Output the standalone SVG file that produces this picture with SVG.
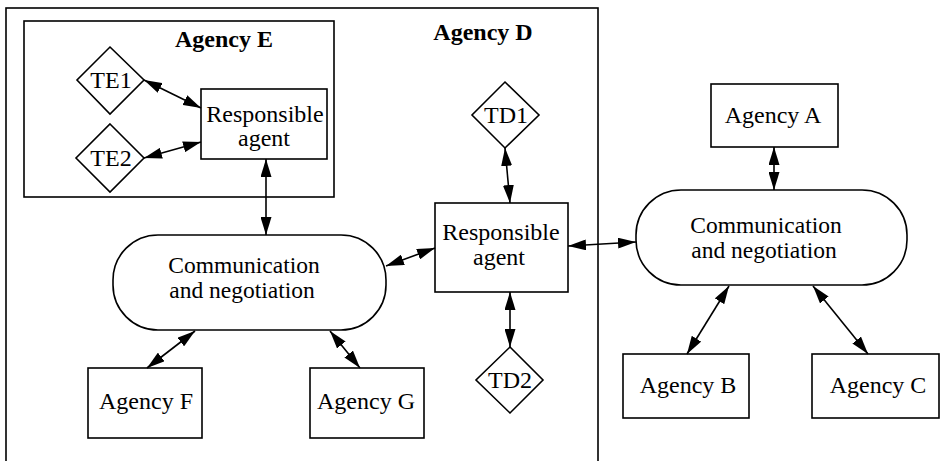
<svg xmlns="http://www.w3.org/2000/svg" width="942" height="461" viewBox="0 0 942 461">
<defs>
<marker id="ah" markerUnits="userSpaceOnUse" markerWidth="18" markerHeight="11" refX="18" refY="5.5" orient="auto-start-reverse" viewBox="0 0 18 11">
<path d="M0,0 L18,5.5 L0,11 z" fill="#000"/>
</marker>
</defs>
<style>
.box{fill:#fff;stroke:#000;stroke-width:1.6}
.frame{fill:none;stroke:#000;stroke-width:1.6}
text{font-family:"Liberation Serif","Times New Roman",serif;font-size:24px;fill:#000;text-anchor:middle}
.title{font-weight:bold;font-size:24px}
.cn{font-size:23.5px}
.conn line{stroke:#000;stroke-width:1.6;marker-start:url(#ah);marker-end:url(#ah)}
</style>
<rect width="942" height="461" fill="#fff"/>
<g id="agencyD">
<rect class="frame" x="6" y="8" width="592" height="470"/>
<text class="title" x="483" y="40">Agency D</text>
</g>
<g id="agencyE">
<rect class="frame" x="24" y="21" width="310" height="176"/>
<text class="title" x="224" y="47">Agency E</text>
</g>
<g id="TE1">
<polygon class="box" points="110,47 144,80 110,114 77,80"/>
<text x="111" y="88">TE1</text>
</g>
<g id="TE2">
<polygon class="box" points="110,124 144,158 110,192 76,158"/>
<text x="111" y="166">TE2</text>
</g>
<g id="respE">
<rect class="box" x="201" y="89" width="126" height="70"/>
<text x="265" y="122">Responsible</text>
<text x="264" y="146">agent</text>
</g>
<g id="commLeft">
<rect class="box" x="113" y="235" width="273" height="95" rx="45" ry="45"/>
<text class="cn" x="244" y="273">Communication</text>
<text class="cn" x="242" y="298">and negotiation</text>
</g>
<g id="agencyF">
<rect class="box" x="88" y="368" width="114" height="70"/>
<text x="146" y="409">Agency F</text>
</g>
<g id="agencyG">
<rect class="box" x="310" y="368" width="114" height="70"/>
<text x="366" y="409">Agency G</text>
</g>
<g id="respD">
<rect class="box" x="435" y="203" width="133" height="89"/>
<text x="501" y="240">Responsible</text>
<text x="499" y="265">agent</text>
</g>
<g id="TD1">
<polygon class="box" points="505,82 539,115 505,148 472,115"/>
<text x="506" y="123">TD1</text>
</g>
<g id="TD2">
<polygon class="box" points="510,347 543,380 510,413 476,380"/>
<text x="510" y="388">TD2</text>
</g>
<g id="commRight">
<rect class="box" x="636" y="190" width="271" height="95" rx="45" ry="45"/>
<text class="cn" x="766" y="233">Communication</text>
<text class="cn" x="764" y="258">and negotiation</text>
</g>
<g id="agencyA">
<rect class="box" x="711" y="84" width="127" height="63"/>
<text x="773" y="123">Agency A</text>
</g>
<g id="agencyB">
<rect class="box" x="623" y="354" width="126" height="64"/>
<text x="688" y="393">Agency B</text>
</g>
<g id="agencyC">
<rect class="box" x="812" y="354" width="127" height="64"/>
<text x="878" y="393">Agency C</text>
</g>
<g class="conn" id="connectors">
<line x1="144" y1="80" x2="201" y2="108"/>
<line x1="144" y1="158" x2="201" y2="142"/>
<line x1="266" y1="159" x2="266" y2="235"/>
<line x1="386" y1="266" x2="435" y2="248"/>
<line x1="195" y1="331" x2="147" y2="368"/>
<line x1="330" y1="331" x2="360" y2="368"/>
<line x1="505" y1="148" x2="510" y2="203"/>
<line x1="510" y1="292" x2="510" y2="347"/>
<line x1="568" y1="246" x2="636" y2="242"/>
<line x1="774" y1="147" x2="774" y2="190"/>
<line x1="729" y1="286" x2="687" y2="354"/>
<line x1="813" y1="286" x2="868" y2="354"/>
</g>
</svg>
